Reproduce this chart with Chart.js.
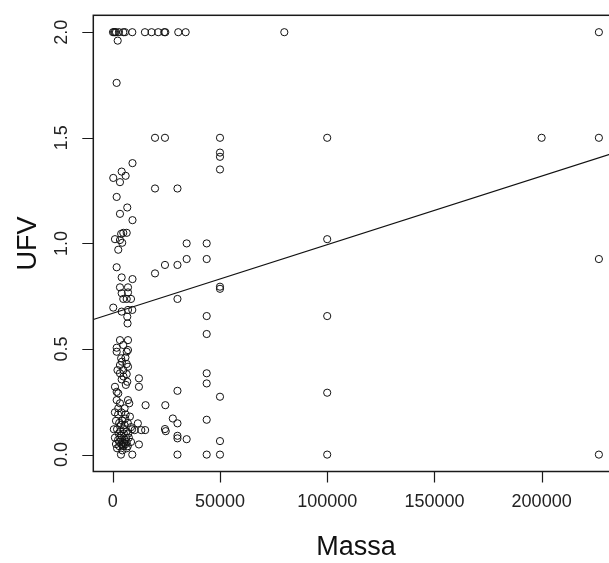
<!DOCTYPE html>
<html>
<head>
<meta charset="utf-8">
<script src="https://cdn.jsdelivr.net/npm/chart.js@4"></script>
<style>
  html, body { margin: 0; padding: 0; background: #fff; overflow: hidden; }
  #wrap { position: absolute; left: 0; top: 0; width: 609px; height: 563px; overflow: hidden; }
  canvas { display: block; }
</style>
</head>
<body>
<div id="wrap"><canvas id="c" width="640" height="563"></canvas></div>
<script>
// Massa (x) and UFV (y) observations
const massa = [
  100, 600, 1030, 1500, 2890, 4900, 5690, 9100, 15000, 18100, 21200, 24000, 24500, 30540, 34000, 80000, 226700,
  2300, 1800,
  19700, 24340, 50000, 100000, 200000, 226700,
  50000, 50000, 50000,
  9200, 4150, 6000, 230, 3360, 1820,
  19700, 30170,
  6760, 3360, 9200, 4900, 6500, 3900, 1030, 3360, 4400, 2560,
  34460, 43800, 34460, 43800, 24340, 30170, 19700, 100000, 226700,
  1820, 4150, 9200, 3360, 7100, 50000, 50000,
  4150, 7100, 4900, 6500, 8500, 30170, 230, 4150, 7100, 9100, 6760, 6900, 43800, 100000, 43800,
  3360, 7100, 1820, 4900, 7100, 1820, 6500, 3900, 6500, 3360, 7100, 4900, 3360, 6500, 4150, 6760,
  12200, 12200, 43800, 43800, 30170, 50000, 100000,
  1030, 1820, 2560, 1820, 3360, 7100, 7700, 15300, 24500, 2560, 5500,
  28000, 30170, 43800, 24340, 24700, 30170, 30170, 34460, 50000,
  30170, 43800, 50000, 100000, 226700, 3820, 9100,
  11700, 13300, 15100, 10200, 12200,
  1000, 2500, 4000, 6000, 8000,
  1500, 3000, 4500, 5500, 7000, 8500,
  500, 2000, 3500, 5000, 6500, 9000,
  1000, 2500, 3500, 4500, 5500, 6500, 7500,
  1500, 3000, 4000, 5000, 6000, 7000,
  2000, 4500, 6500, 8500,
  3000, 4000, 5200, 6200, 3800, 5800, 4600, 2800, 7200, 5300,
  4300, 5900, 2200, 5000, 6100
];
const ufv = [
  2.0, 2.0, 2.0, 2.0, 2.0, 2.0, 2.0, 2.0, 2.0, 2.0, 2.0, 2.0, 2.0, 2.0, 2.0, 2.0, 2.0,
  1.96, 1.76,
  1.5, 1.5, 1.5, 1.5, 1.5, 1.5,
  1.43, 1.41, 1.35,
  1.38, 1.34, 1.32, 1.31, 1.29, 1.22,
  1.26, 1.26,
  1.17, 1.14, 1.11, 1.05, 1.05, 1.045, 1.02, 1.016, 1.003, 0.97,
  1.0, 1.0, 0.926, 0.926, 0.898, 0.898, 0.858, 1.02, 0.926,
  0.887, 0.839, 0.831, 0.792, 0.792, 0.795, 0.785,
  0.764, 0.768, 0.737, 0.737, 0.737, 0.737, 0.696, 0.677, 0.685, 0.685, 0.653, 0.621, 0.656, 0.656, 0.571,
  0.542, 0.542, 0.506, 0.519, 0.495, 0.487, 0.487, 0.456, 0.429, 0.424, 0.416, 0.40, 0.385, 0.381, 0.356, 0.345,
  0.361, 0.321, 0.385, 0.337, 0.302, 0.274, 0.293,
  0.321, 0.297, 0.29, 0.258, 0.243, 0.258, 0.243, 0.234, 0.234, 0.219, 0.219,
  0.171, 0.148, 0.165, 0.121, 0.111, 0.089, 0.077, 0.073, 0.064,
  0, 0, 0, 0, 0, 0, 0,
  0.148, 0.116, 0.116, 0.116, 0.048,
  0.20, 0.19, 0.20, 0.19, 0.18,
  0.16, 0.15, 0.16, 0.14, 0.15, 0.13,
  0.12, 0.12, 0.11, 0.12, 0.11, 0.12,
  0.08, 0.07, 0.08, 0.06, 0.07, 0.06, 0.08,
  0.05, 0.04, 0.05, 0.04, 0.05, 0.04,
  0.03, 0.02, 0.03, 0.06,
  0.06, 0.09, 0.10, 0.08, 0.14, 0.17, 0.045, 0.10, 0.10, 0.055,
  0.44, 0.46, 0.40, 0.37, 0.33
];

// Axis ticks
const xTicks = [0, 50000, 100000, 150000, 200000];
const xTickLabels = ['0', '50000', '100000', '150000', '200000'];
const yTicks = [0, 0.5, 1.0, 1.5, 2.0];
const yTickLabels = ['0.0', '0.5', '1.0', '1.5', '2.0'];

// Least-squares fit UFV ~ Massa
const fitIntercept = 0.669;
const fitSlope = 3.25e-6;

// Axis limits: data range widened by 4% on each side
const xRange = [0, 227000];
const yRange = [0, 2];
const xPad = (xRange[1] - xRange[0]) * 0.04;
const yPad = (yRange[1] - yRange[0]) * 0.04;
const xMin = xRange[0] - xPad, xMax = xRange[1] + xPad;
const yMin = yRange[0] - yPad, yMax = yRange[1] + yPad;

const points = massa.map((m, i) => ({ x: m, y: ufv[i] }));
const fitLine = [xMin, xMax].map(x => ({ x: x, y: fitIntercept + fitSlope * x }));

const FONT = '"Liberation Sans", Arial, Helvetica, sans-serif';

const baseAxes = {
  id: 'baseAxes',
  afterDraw(chart) {
    const { ctx, chartArea: a, scales: { x, y } } = chart;
    ctx.save();
    ctx.strokeStyle = '#1a1a1a';
    ctx.lineWidth = 1.5;
    ctx.strokeRect(a.left, a.top, a.right - a.left, a.bottom - a.top);

    ctx.lineWidth = 1.2;
    ctx.fillStyle = '#222';
    ctx.font = '18px ' + FONT;
    const tick = 11;

    // bottom axis
    ctx.beginPath();
    xTicks.forEach(v => {
      const px = Math.round(x.getPixelForValue(v)) + 0.5;
      ctx.moveTo(px, a.bottom);
      ctx.lineTo(px, a.bottom + tick);
    });
    ctx.stroke();
    ctx.textAlign = 'center';
    ctx.textBaseline = 'middle';
    xTicks.forEach((v, i) => {
      ctx.fillText(xTickLabels[i], x.getPixelForValue(v), a.bottom + 31);
    });

    // left axis
    ctx.beginPath();
    yTicks.forEach(v => {
      const py = Math.round(y.getPixelForValue(v)) + 0.5;
      ctx.moveTo(a.left, py);
      ctx.lineTo(a.left - tick, py);
    });
    ctx.stroke();
    yTicks.forEach((v, i) => {
      ctx.save();
      ctx.translate(a.left - 31, y.getPixelForValue(v));
      ctx.rotate(-Math.PI / 2);
      ctx.fillText(yTickLabels[i], 0, 0);
      ctx.restore();
    });

    // axis titles
    ctx.fillStyle = '#111';
    ctx.font = '27px ' + FONT;
    ctx.fillText('Massa', 356, 548);
    ctx.save();
    ctx.translate(29, (a.top + a.bottom) / 2);
    ctx.rotate(-Math.PI / 2);
    ctx.fillText('UFV', 0, 0);
    ctx.restore();
    ctx.restore();
  }
};

new Chart(document.getElementById('c'), {
  type: 'scatter',
  data: {
    datasets: [
      {
        type: 'line',
        data: fitLine,
        borderColor: '#111',
        borderWidth: 1.2,
        pointRadius: 0,
        fill: false
      },
      {
        data: points,
        pointStyle: 'circle',
        pointRadius: 3.6,
        pointBorderWidth: 1,
        pointBorderColor: '#111',
        pointBackgroundColor: 'rgba(0,0,0,0)'
      }
    ]
  },
  options: {
    responsive: false,
    animation: false,
    devicePixelRatio: 1,
    layout: { padding: { left: 93.3, right: 21, top: 15.3, bottom: 91.5 } },
    plugins: { legend: { display: false }, tooltip: { enabled: false } },
    scales: {
      x: { type: 'linear', min: xMin, max: xMax, display: false },
      y: { type: 'linear', min: yMin, max: yMax, display: false }
    }
  },
  plugins: [baseAxes]
});
</script>
</body>
</html>
